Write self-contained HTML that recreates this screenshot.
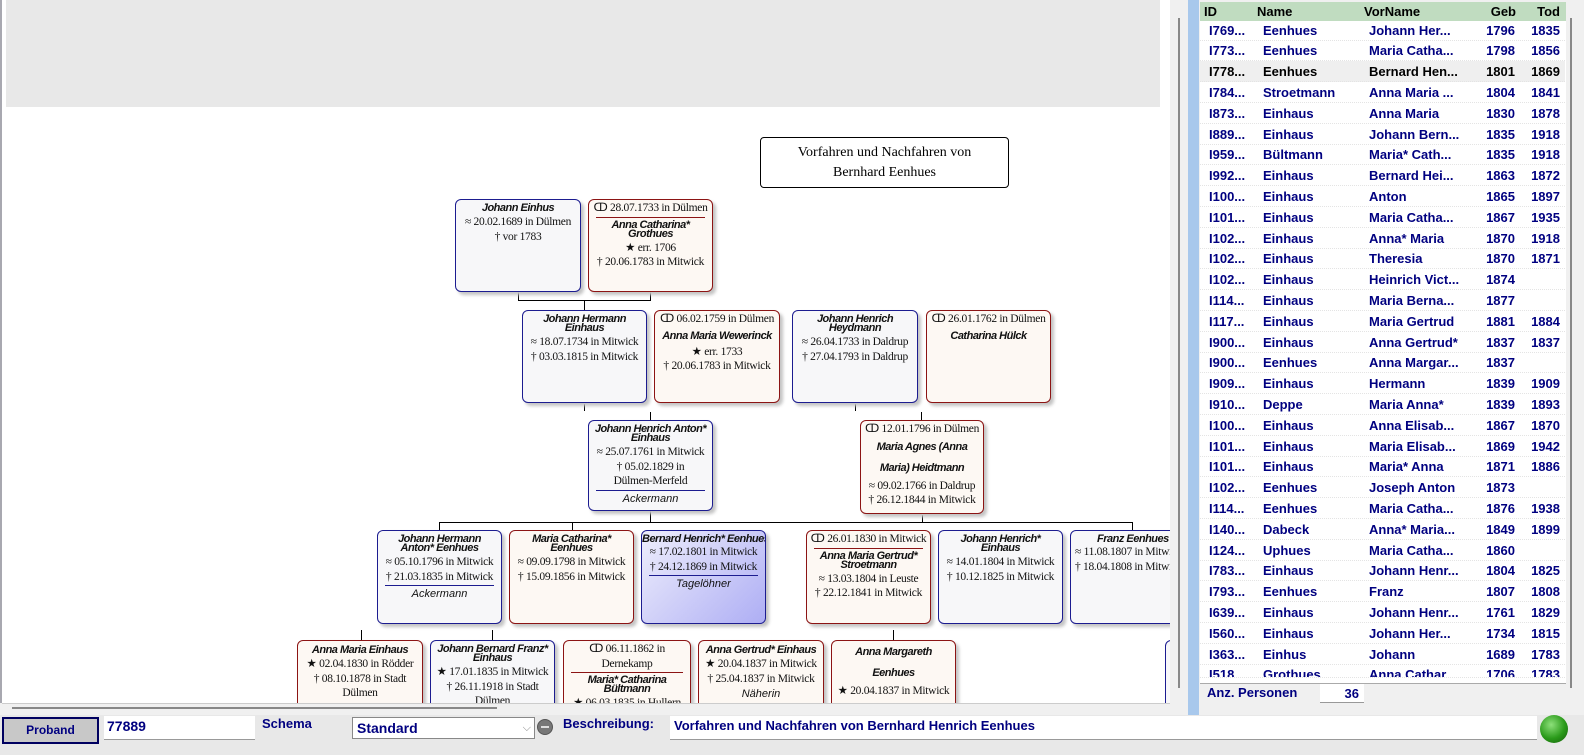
<!DOCTYPE html>
<html><head><meta charset="utf-8"><style>
*{margin:0;padding:0;box-sizing:border-box}
body{width:1584px;height:755px;position:relative;overflow:hidden;background:#f0f0f0;font-family:"Liberation Sans",sans-serif}
.a{position:absolute}
#canvas{left:2px;top:0;width:1168px;height:703px;background:#fff;overflow:hidden}
.b{position:absolute;border:1.5px solid;border-radius:6px;box-shadow:3px 3px 3px #c4c4c4;text-align:center;font:11.5px/14.5px "Liberation Serif",serif;letter-spacing:-0.3px;color:#111;padding-top:1px;overflow:hidden;white-space:nowrap}
.bl{border-color:#1c1c90;background:#f7f7f9}
.rd{border-color:#8c1414;background:#fdf8f3}
.n{font:italic bold 11px/9px "Liberation Sans",sans-serif;letter-spacing:-0.5px;padding:3px 0 2px}
.i{font:italic 11px/16px "Liberation Sans",sans-serif;letter-spacing:0}
.hr{height:1px;margin:1px 7px 0}
.bl .hr{background:#1c1c90}.rd .hr{background:#8c1414}
.l{position:absolute;background:#000}
.row{position:absolute;left:1200px;width:365px;height:21px;font:bold 13px/21px "Liberation Sans",sans-serif;color:#000080;border-bottom:1px dotted #e4e4e4}
.row span{position:absolute}
</style></head><body>
<div class="a" style="left:0;top:0;width:2px;height:710px;background:#a8a8b0"></div>
<div class="a" id="canvas">
 <div class="a" style="left:4px;top:0;width:1154px;height:107px;background:#e8e8e8"></div>
</div>
<div class="a" style="left:760px;top:137px;width:249px;height:51px;border:1.5px solid #000;border-radius:4px;background:#fff;text-align:center;font:14px/20px 'Liberation Serif',serif;padding-top:5px">Vorfahren und Nachfahren von<br>Bernhard Eenhues</div>

<div class="l" style="left:518px;top:292px;width:1px;height:9px"></div>
<div class="l" style="left:650px;top:292px;width:1px;height:9px"></div>
<div class="l" style="left:518px;top:300px;width:133px;height:1px"></div>
<div class="l" style="left:584px;top:300px;width:1px;height:10px"></div>
<div class="l" style="left:584px;top:404px;width:1px;height:7px"></div>
<div class="l" style="left:650px;top:412px;width:1px;height:8px"></div>
<div class="l" style="left:855px;top:404px;width:1px;height:7px"></div>
<div class="l" style="left:921px;top:412px;width:1px;height:8px"></div>
<div class="l" style="left:650px;top:511px;width:1px;height:12px"></div>
<div class="l" style="left:922px;top:515px;width:1px;height:8px"></div>
<div class="l" style="left:439px;top:522px;width:694px;height:1px"></div>
<div class="l" style="left:439px;top:522px;width:1px;height:8px"></div>
<div class="l" style="left:572px;top:522px;width:1px;height:8px"></div>
<div class="l" style="left:1132px;top:522px;width:1px;height:8px"></div>
<div class="l" style="left:361px;top:630px;width:1px;height:10px"></div>
<div class="l" style="left:492px;top:630px;width:1px;height:10px"></div>
<div class="l" style="left:893px;top:630px;width:1px;height:10px"></div>

<div class="b bl" style="left:455px;top:199px;width:126px;height:93px"><div class="n">Johann Einhus</div>≈ 20.02.1689 in Dülmen<br>† vor 1783</div>
<div class="b rd" style="left:588px;top:199px;width:125px;height:93px">ↀ 28.07.1733 in Dülmen<div class="hr"></div><div class="n">Anna Catharina*<br>Grothues</div>★ err. 1706<br>† 20.06.1783 in Mitwick</div>
<div class="b bl" style="left:522px;top:310px;width:125px;height:93px"><div class="n">Johann Hermann<br>Einhaus</div>≈ 18.07.1734 in Mitwick<br>† 03.03.1815 in Mitwick</div>
<div class="b rd" style="left:654px;top:310px;width:126px;height:93px">ↀ 06.02.1759 in Dülmen<div class="n" style="padding:5px 0 4px">Anna Maria Wewerinck</div>★ err. 1733<br>† 20.06.1783 in Mitwick</div>
<div class="b bl" style="left:792px;top:310px;width:126px;height:93px"><div class="n">Johann Henrich<br>Heydmann</div>≈ 26.04.1733 in Daldrup<br>† 27.04.1793 in Daldrup</div>
<div class="b rd" style="left:926px;top:310px;width:125px;height:93px">ↀ 26.01.1762 in Dülmen<div class="n" style="padding:5px 0">Catharina Hülck</div></div>
<div class="b bl" style="left:588px;top:420px;width:125px;height:91px"><div class="n">Johann Henrich Anton*<br>Einhaus</div>≈ 25.07.1761 in Mitwick<br>† 05.02.1829 in<br>Dülmen-Merfeld<div class="hr"></div><div class="i">Ackermann</div></div>
<div class="b rd" style="left:860px;top:420px;width:124px;height:94px">ↀ 12.01.1796 in Dülmen<div class="n" style="line-height:21px;padding:0">Maria Agnes (Anna<br>Maria) Heidtmann</div>≈ 09.02.1766 in Daldrup<br>† 26.12.1844 in Mitwick</div>
<div class="b bl" style="left:377px;top:530px;width:125px;height:94px"><div class="n">Johann Hermann<br>Anton* Eenhues</div>≈ 05.10.1796 in Mitwick<br>† 21.03.1835 in Mitwick<div class="hr"></div><div class="i">Ackermann</div></div>
<div class="b rd" style="left:509px;top:530px;width:125px;height:94px"><div class="n">Maria Catharina*<br>Eenhues</div>≈ 09.09.1798 in Mitwick<br>† 15.09.1856 in Mitwick</div>
<div class="b bl" style="left:641px;top:530px;width:125px;height:94px;background:linear-gradient(135deg,#eeeefc,#aeaef4)"><div class="n" style="padding:3px 0 1px">Bernard Henrich* Eenhues</div>≈ 17.02.1801 in Mitwick<br>† 24.12.1869 in Mitwick<div class="hr"></div><div class="i">Tagelöhner</div></div>
<div class="b rd" style="left:806px;top:530px;width:125px;height:94px">ↀ 26.01.1830 in Mitwick<div class="hr"></div><div class="n">Anna Maria Gertrud*<br>Stroetmann</div>≈ 13.03.1804 in Leuste<br>† 22.12.1841 in Mitwick</div>
<div class="b bl" style="left:938px;top:530px;width:125px;height:94px"><div class="n">Johann Henrich*<br>Einhaus</div>≈ 14.01.1804 in Mitwick<br>† 10.12.1825 in Mitwick</div>
<div class="b bl" style="left:1070px;top:530px;width:125px;height:94px;text-align:left;padding-left:4px"><div class="n" style="padding-left:22px;padding-bottom:1px">Franz Eenhues</div>≈ 11.08.1807 in Mitwick<br>† 18.04.1808 in Mitwick</div>
<div class="b rd" style="left:297px;top:640px;width:126px;height:80px"><div class="n" style="padding:4px 0 2px">Anna Maria Einhaus</div>★ 02.04.1830 in Rödder<br>† 08.10.1878 in Stadt<br>Dülmen<br>Dienstmagd</div>
<div class="b bl" style="left:430px;top:640px;width:125px;height:80px"><div class="n">Johann Bernard Franz*<br>Einhaus</div>★ 17.01.1835 in Mitwick<br>† 26.11.1918 in Stadt<br>Dülmen</div>
<div class="b rd" style="left:563px;top:640px;width:128px;height:80px">ↀ 06.11.1862 in<br>Dernekamp<div class="hr"></div><div class="n">Maria* Catharina<br>Bültmann</div>★ 06.03.1835 in Hullern</div>
<div class="b rd" style="left:698px;top:640px;width:126px;height:80px"><div class="n" style="padding:4px 0 2px">Anna Gertrud* Einhaus</div>★ 20.04.1837 in Mitwick<br>† 25.04.1837 in Mitwick<div class="i">Näherin</div></div>
<div class="b rd" style="left:831px;top:640px;width:125px;height:80px"><div class="n" style="line-height:21px;padding:0">Anna Margareth<br>Eenhues</div>★ 20.04.1837 in Mitwick</div>
<div class="b bl" style="left:1165px;top:640px;width:40px;height:80px"></div>

<div class="a" style="left:1170px;top:0;width:18px;height:715px;background:#f0f0f0"></div>
<div class="a" style="left:1178px;top:18px;width:2px;height:670px;background:#888"></div>
<div class="a" style="left:0;top:703px;width:1170px;height:12px;background:#f0f0f0"></div>
<div class="a" style="left:12px;top:707px;width:485px;height:2px;background:#888"></div>
<div class="a" style="left:2px;top:703px;width:1168px;height:1px;background:#ccc"></div>

<div class="a" style="left:1188px;top:0;width:11px;height:715px;background:#a8c8ec"></div>

<div class="a" style="left:1199px;top:0;width:385px;height:715px;background:#f0f0f0"></div>
<div class="a" style="left:1200px;top:2px;width:366px;height:682px;background:#fff;border-bottom:1px solid #aaa"></div>
<div class="a" style="left:1200px;top:2px;width:366px;height:19px;background:#c0dcc0;font:bold 13px/19px 'Liberation Sans',sans-serif;color:#000">
<span class="a" style="left:4px">ID</span><span class="a" style="left:57px">Name</span><span class="a" style="left:164px">VorName</span><span class="a" style="right:50px">Geb</span><span class="a" style="right:6px">Tod</span></div>
<div class="a" style="left:1570px;top:18px;width:2px;height:670px;background:#888"></div>
<div id="rows"></div>
<div class="a" style="left:1207px;top:685px;font:bold 13px/16px 'Liberation Sans',sans-serif;color:#000080">Anz. Personen</div>
<div class="a" style="left:1320px;top:684px;width:44px;height:19px;background:#fff;border-bottom:1px solid #999;font:bold 13px/19px 'Liberation Sans',sans-serif;color:#000080;text-align:right;padding-right:5px">36</div>

<div class="a" style="left:0;top:715px;width:1584px;height:40px;background:#e8e8e8"></div>
<div class="a" style="left:2px;top:717px;width:97px;height:27px;background:#c8c8c8;border:2px solid #000060;font:bold 12px/23px 'Liberation Sans',sans-serif;color:#000080;text-align:center">Proband</div>
<div class="a" style="left:104px;top:716px;width:151px;height:24px;background:#fff;border-bottom:1px solid #999;font:bold 14px/20px 'Liberation Sans',sans-serif;color:#000080;padding-left:3px">77889</div>
<div class="a" style="left:262px;top:715px;font:bold 13px/18px 'Liberation Sans',sans-serif;color:#000080">Schema</div>
<div class="a" style="left:352px;top:717px;width:183px;height:22px;background:#fff;border:1px solid #888;font:bold 14px/20px 'Liberation Sans',sans-serif;color:#000080;padding-left:4px">Standard<span class="a" style="right:3px;top:0;color:#888;font-weight:normal;font-size:11px">⌵</span></div>
<div class="a" style="left:537px;top:719px;width:16px;height:16px;border-radius:50%;background:#777;border:1px solid #555"><div class="a" style="left:3px;top:6px;width:8px;height:2px;background:#ddd"></div></div>
<div class="a" style="left:563px;top:715px;font:bold 13px/18px 'Liberation Sans',sans-serif;color:#000080">Beschreibung:</div>
<div class="a" style="left:670px;top:716px;width:867px;height:24px;background:#fff;border-bottom:1px solid #999;font:bold 13px/20px 'Liberation Sans',sans-serif;color:#000080;padding-left:4px">Vorfahren und Nachfahren von Bernhard Henrich Eenhues</div>
<div class="a" style="left:1540px;top:715px;width:28px;height:28px;border-radius:50%;background:radial-gradient(circle at 40% 35%,#8de07a,#2a9a1a 55%,#145a0a)"></div>

<script>
var d=[["I769...","Eenhues","Johann Her...","1796","1835"],["I773...","Eenhues","Maria Catha...","1798","1856"],["I778...","Eenhues","Bernard Hen...","1801","1869"],["I784...","Stroetmann","Anna Maria ...","1804","1841"],["I873...","Einhaus","Anna Maria","1830","1878"],["I889...","Einhaus","Johann Bern...","1835","1918"],["I959...","Bültmann","Maria* Cath...","1835","1918"],["I992...","Einhaus","Bernard Hei...","1863","1872"],["I100...","Einhaus","Anton","1865","1897"],["I101...","Einhaus","Maria Catha...","1867","1935"],["I102...","Einhaus","Anna* Maria","1870","1918"],["I102...","Einhaus","Theresia","1870","1871"],["I102...","Einhaus","Heinrich Vict...","1874",""],["I114...","Einhaus","Maria Berna...","1877",""],["I117...","Einhaus","Maria Gertrud","1881","1884"],["I900...","Einhaus","Anna Gertrud*","1837","1837"],["I900...","Eenhues","Anna Margar...","1837",""],["I909...","Einhaus","Hermann","1839","1909"],["I910...","Deppe","Maria Anna*","1839","1893"],["I100...","Einhaus","Anna Elisab...","1867","1870"],["I101...","Einhaus","Maria Elisab...","1869","1942"],["I101...","Einhaus","Maria* Anna","1871","1886"],["I102...","Eenhues","Joseph Anton","1873",""],["I114...","Eenhues","Maria Catha...","1876","1938"],["I140...","Dabeck","Anna* Maria...","1849","1899"],["I124...","Uphues","Maria Catha...","1860",""],["I783...","Einhaus","Johann Henr...","1804","1825"],["I793...","Eenhues","Franz","1807","1808"],["I639...","Einhaus","Johann Henr...","1761","1829"],["I560...","Einhaus","Johann Her...","1734","1815"],["I363...","Einhus","Johann","1689","1783"],["I518...","Grothues","Anna Cathar...","1706","1783"]];
var h="";d.forEach(function(r,i){var t=20.8*i+19.5;h+='<div class="row" style="top:'+t+'px;height:'+(i==31?14:21)+'px;overflow:hidden;'+(i==2?'background:#efefef;color:#000;':'')+'"><span style="left:9px">'+r[0]+'</span><span style="left:63px">'+r[1]+'</span><span style="left:169px">'+r[2]+'</span><span style="right:50px">'+r[3]+'</span><span style="right:5px">'+r[4]+'</span></div>';});
document.getElementById("rows").innerHTML=h;
</script>
</body></html>
